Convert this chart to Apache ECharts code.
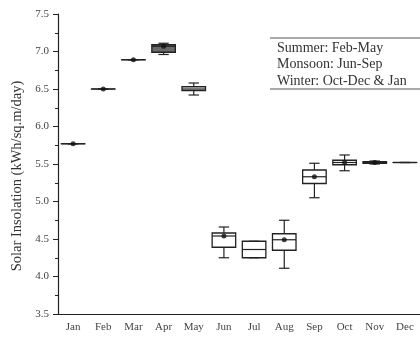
<!DOCTYPE html>
<html>
<head>
<meta charset="utf-8">
<script src="https://cdn.jsdelivr.net/npm/echarts@6/dist/echarts.min.js"></script>
<style>
  html, body { margin: 0; padding: 0; background: #fff; }
  #chart { width: 420px; height: 339px; }
</style>
</head>
<body>
<div id="chart"></div>
<script>
const months = ['Jan', 'Feb', 'Mar', 'Apr', 'May', 'Jun', 'Jul', 'Aug', 'Sep', 'Oct', 'Nov', 'Dec']
const minVals = [5.77, 6.5, 6.89, 6.96, 6.42, 4.25, 4.25, 4.11, 5.05, 5.41, 5.5, 5.52]
const q1Vals = [5.77, 6.5, 6.89, 6.99, 6.48, 4.39, 4.25, 4.35, 5.24, 5.49, 5.51, 5.52]
const medianVals = [5.77, 6.5, 6.89, 7.07, 6.5, 4.54, 4.36, 4.49, 5.33, 5.52, 5.52, 5.52]
const q3Vals = [5.77, 6.5, 6.89, 7.09, 6.53, 4.58, 4.47, 4.57, 5.42, 5.55, 5.53, 5.52]
const maxVals = [5.77, 6.5, 6.89, 7.11, 6.58, 4.66, 4.47, 4.75, 5.51, 5.62, 5.54, 5.52]
const meanVals = [5.77, 6.5, 6.89, 7.07, null, 4.54, null, 4.49, 5.33, 5.52, 5.52, null]
const yTicks = { min: 3.5, max: 7.5, interval: 0.5 }
const noteLines = ['Summer: Feb-May', 'Monsoon: Jun-Sep', 'Winter: Oct-Dec & Jan']

const serif = '"Liberation Serif", "DejaVu Serif", serif'
const ink = '#222'

const myChart = echarts.init(document.getElementById('chart'))

const boxData = months.map((m, i) => [i, minVals[i], q1Vals[i], medianVals[i], q3Vals[i], maxVals[i]])
const meanData = months.map((m, i) => [i, meanVals[i]]).filter((d) => d[1] !== null)

const renderBox = (params, api) => {
  const i = api.value(0)
  const pMin = api.coord([i, api.value(1)])
  const pQ1 = api.coord([i, api.value(2)])
  const pMed = api.coord([i, api.value(3)])
  const pQ3 = api.coord([i, api.value(4)])
  const pMax = api.coord([i, api.value(5)])
  const w = api.size([1, 0])[0] * 0.78
  const cap = w * 0.22
  const x = pMed[0]
  const filled = months[i] === 'Apr'
  const lineStyle = { stroke: ink, lineWidth: 1.2 }
  const children = [
    { type: 'line', shape: { x1: x, y1: pQ3[1], x2: x, y2: pMax[1] }, style: lineStyle },
    { type: 'line', shape: { x1: x, y1: pQ1[1], x2: x, y2: pMin[1] }, style: lineStyle },
    { type: 'line', shape: { x1: x - cap, y1: pMax[1], x2: x + cap, y2: pMax[1] }, style: lineStyle },
    { type: 'line', shape: { x1: x - cap, y1: pMin[1], x2: x + cap, y2: pMin[1] }, style: lineStyle },
    {
      type: 'rect',
      shape: { x: x - w / 2, y: pQ3[1], width: w, height: Math.max(pQ1[1] - pQ3[1], 0.01) },
      style: { fill: filled ? '#6a6a6a' : '#fff', stroke: ink, lineWidth: 1.3 }
    },
    { type: 'line', shape: { x1: x - w / 2, y1: pMed[1], x2: x + w / 2, y2: pMed[1] }, style: lineStyle }
  ]
  return { type: 'group', children }
}

const option = {
  animation: false,
  backgroundColor: '#fff',
  grid: { left: 58, right: -10, top: 14, bottom: 25 },
  xAxis: {
    type: 'category',
    data: months,
    boundaryGap: true,
    axisLine: { lineStyle: { color: ink, width: 1.2 } },
    axisTick: { alignWithLabel: true, length: 4, lineStyle: { color: ink } },
    axisLabel: { color: '#444', fontFamily: serif, fontSize: 11, margin: 8, interval: 0 },
    splitLine: { show: false }
  },
  yAxis: {
    type: 'value',
    min: yTicks.min,
    max: yTicks.max,
    interval: yTicks.interval,
    name: 'Solar Insolation (kWh/sq.m/day)',
    nameLocation: 'middle',
    nameGap: 31,
    nameTextStyle: { color: '#333', fontFamily: serif, fontSize: 14.5, padding: [0, 24, 0, 0] },
    axisLine: { show: true, lineStyle: { color: ink, width: 1.2 } },
    axisTick: { show: true, length: 5, lineStyle: { color: ink } },
    minorTick: { show: true, splitNumber: 2, length: 3, lineStyle: { color: ink } },
    axisLabel: {
      color: '#444',
      fontFamily: serif,
      fontSize: 11,
      margin: 9,
      formatter: (v) => v.toFixed(1)
    },
    splitLine: { show: false }
  },
  graphic: [
    { type: 'line', shape: { x1: 270, y1: 38, x2: 420, y2: 38 }, style: { stroke: '#555', lineWidth: 1 } },
    { type: 'line', shape: { x1: 270, y1: 89, x2: 420, y2: 89 }, style: { stroke: '#555', lineWidth: 1 } },
    ...noteLines.map((t, i) => ({
      type: 'text',
      left: 277,
      top: 41 + i * 16.5,
      style: { text: t, fill: '#333', font: '14px ' + serif }
    }))
  ],
  series: [
    {
      type: 'custom',
      renderItem: renderBox,
      data: boxData,
      encode: { x: 0, y: [1, 2, 3, 4, 5] },
      z: 2
    },
    {
      type: 'scatter',
      data: meanData,
      symbol: 'circle',
      symbolSize: 5,
      itemStyle: { color: '#111' },
      z: 3
    }
  ]
}

myChart.setOption(option)
</script>
</body>
</html>
